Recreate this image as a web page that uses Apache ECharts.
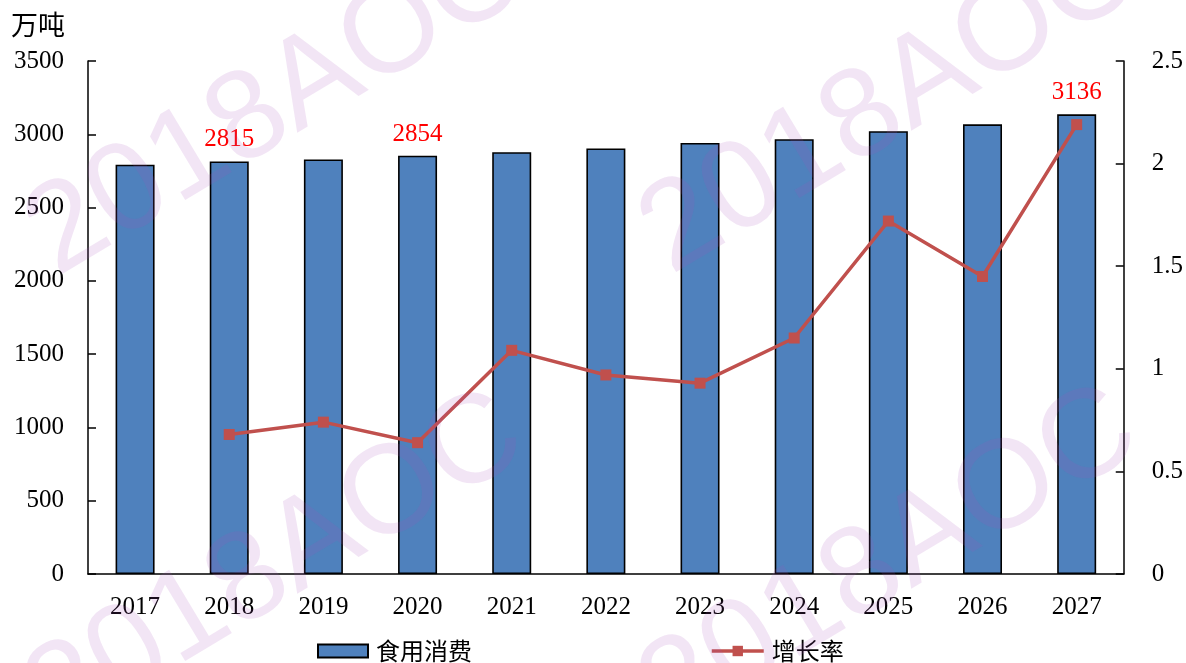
<!DOCTYPE html>
<html>
<head>
<meta charset="utf-8">
<script src="https://cdn.jsdelivr.net/npm/echarts@6/dist/echarts.min.js"></script>
<style>html,body{margin:0;padding:0;background:#fff}#c{width:1186px;height:663px}</style>
</head>
<body>
<div id="c"></div>
<script>
var categories = ['2017','2018','2019','2020','2021','2022','2023','2024','2025','2026','2027'];
var consumption = [2792, 2815, 2828, 2854, 2878, 2903, 2941, 2966, 3021, 3068, 3136];
var growthRate = [null, 0.68, 0.74, 0.64, 1.09, 0.97, 0.93, 1.15, 1.72, 1.45, 2.19];
var labelledYears = ['2018', '2020', '2027'];
var leftTicks = {min: 0, max: 3500, interval: 500};
var rightTicks = {min: 0, max: 2.5, interval: 0.5};
var unitName = '万吨';
var barName = '食用消费';
var lineName = '增长率';
var watermarkText = '2018AOC';

var serif = '"Liberation Serif", "Times New Roman", serif';
var cjk = '"Noto Sans CJK SC", sans-serif';

var barData = consumption.map(function (v, i) {
  var show = labelledYears.indexOf(categories[i]) >= 0;
  return {value: v, label: {show: show}};
});

var wmPositions = [[276, 105], [890, 103], [276, 566], [890, 561]];
var watermarks = wmPositions.map(function (p) {
  return {
    type: 'text', x: p[0], y: p[1], rotation: 31 * Math.PI / 180, z: 100, silent: true,
    style: {text: watermarkText, fontSize: 126, fontFamily: '"Liberation Sans", Arial, sans-serif',
      fill: 'rgba(165,80,185,0.15)', align: 'center', verticalAlign: 'middle'}
  };
});

var chart = echarts.init(document.getElementById('c'));
chart.setOption({
  animation: false,
  backgroundColor: '#fff',
  grid: {left: 88, right: 62, top: 61, bottom: 89, containLabel: false},
  legend: [
    {data: [{name: barName, icon: 'rect'}], left: 317, top: 639, padding: 0, itemWidth: 50, itemHeight: 13, itemGap: 0,
      textStyle: {fontFamily: cjk, fontSize: 24, color: '#000', padding: [0, 0, 0, 3]}},
    {data: [lineName], left: 710, top: 639, padding: 0, itemWidth: 52, itemHeight: 13, itemGap: 0,
      lineStyle: {width: 3.5, color: '#C0504D'},
      textStyle: {fontFamily: cjk, fontSize: 24, color: '#000', padding: [0, 0, 0, 3]}}
  ],
  xAxis: {
    type: 'category', data: categories, boundaryGap: true,
    axisLine: {lineStyle: {color: '#000', width: 1.5}},
    axisTick: {inside: true, length: 7, lineStyle: {color: '#000', width: 1.5}},
    axisLabel: {color: '#000', fontFamily: serif, fontSize: 25, margin: 21}
  },
  yAxis: [
    {type: 'value', min: leftTicks.min, max: leftTicks.max, interval: leftTicks.interval,
      splitLine: {show: false},
      axisLine: {show: true, lineStyle: {color: '#000', width: 1.5}},
      axisTick: {show: true, inside: true, length: 8, lineStyle: {color: '#000', width: 1.5}},
      axisLabel: {color: '#000', fontFamily: serif, fontSize: 25, margin: 24, padding: [3, 0, 0, 0],
        formatter: function (v) { return String(v); }}},
    {type: 'value', min: rightTicks.min, max: rightTicks.max, interval: rightTicks.interval,
      position: 'right', splitLine: {show: false},
      axisLine: {show: true, lineStyle: {color: '#000', width: 1.5}},
      axisTick: {show: true, inside: true, length: 8, lineStyle: {color: '#000', width: 1.5}},
      axisLabel: {color: '#000', fontFamily: serif, fontSize: 25, margin: 28, padding: [3, 0, 0, 0],
        formatter: function (v) { return String(v); }}}
  ],
  series: [
    {name: barName, type: 'bar', yAxisIndex: 0, data: barData, barWidth: 39,
      itemStyle: {color: '#4F81BD', borderColor: '#000', borderWidth: 1.6},
      label: {position: 'top', distance: 9, color: '#FF0000', fontFamily: serif, fontSize: 25}},
    {name: lineName, type: 'line', yAxisIndex: 1, data: growthRate, connectNulls: false,
      symbol: 'rect', symbolSize: 11,
      lineStyle: {color: '#C0504D', width: 3.5},
      itemStyle: {color: '#C0504D'}, z: 5}
  ],
  graphic: [
    {type: 'text', left: 11, top: 11, style: {text: unitName, fontFamily: cjk, fontSize: 27, fill: '#000'}}
  ].concat(watermarks)
});
</script>
</body>
</html>
